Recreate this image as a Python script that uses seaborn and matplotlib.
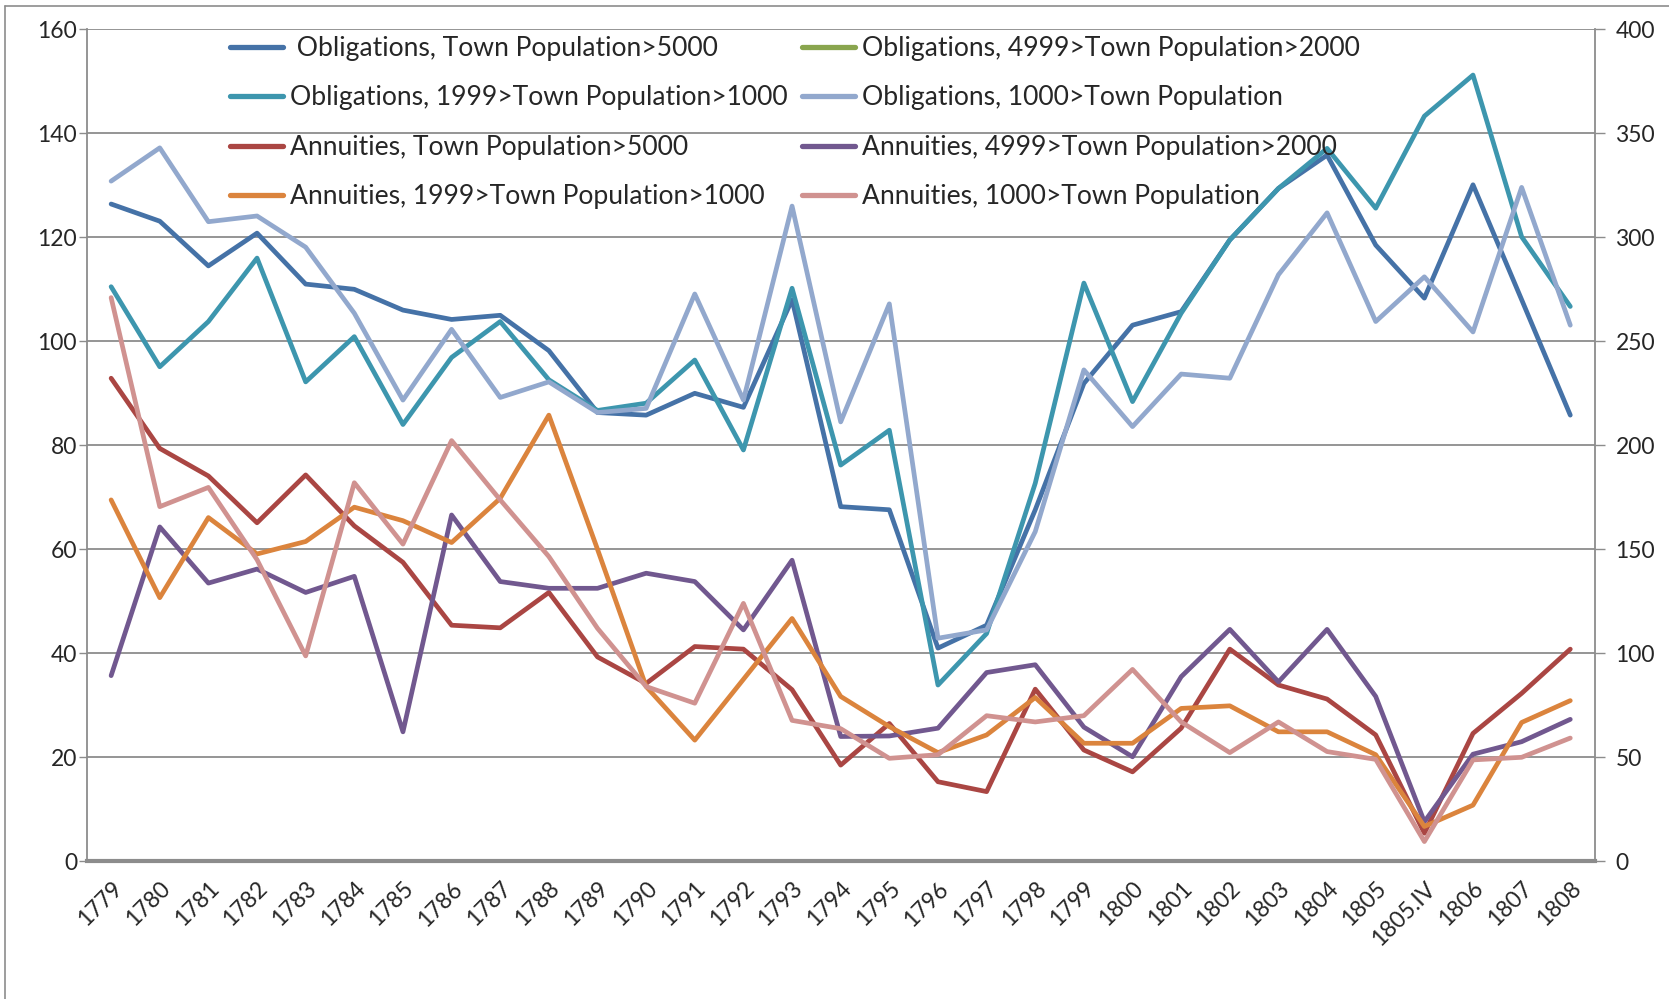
import numpy as np
import pandas as pd
import matplotlib
matplotlib.use("Agg")
import matplotlib.pyplot as plt
import seaborn as sns
from matplotlib.lines import Line2D

years = ["1779", "1780", "1781", "1782", "1783", "1784", "1785", "1786", "1787", "1788",
         "1789", "1790", "1791", "1792", "1793", "1794", "1795", "1796", "1797", "1798",
         "1799", "1800", "1801", "1802", "1803", "1804", "1805", "1805.IV", "1806", "1807", "1808"]

obl_5000 = [126.4, 123.1, 114.5, 120.8, 111.0, 110.0, 106.0, 104.2, 105.0, 98.2,
            86.3, 85.8, 90.0, 87.3, 108.0, 68.2, 67.6, 41.0, 45.4, 67.6,
            91.9, 103.1, 105.7, 119.5, 129.4, 135.8, 118.5, 108.3, 130.1, 108.0, 85.8]
obl_4999 = []  # series is in the legend but draws nothing in the chart
obl_1999 = [110.5, 95.1, 103.8, 116.0, 92.2, 100.9, 84.0, 96.9, 103.8, 92.6,
            86.7, 88.1, 96.4, 79.1, 110.2, 76.2, 82.9, 33.9, 43.8, 72.7,
            111.2, 88.4, 105.4, 119.5, 129.4, 137.1, 125.6, 143.3, 151.2, 120.1, 106.7]
obl_1000 = [130.8, 137.2, 123.0, 124.1, 118.1, 105.4, 88.7, 102.3, 89.2, 92.2,
            86.3, 87.1, 109.1, 88.7, 126.0, 84.5, 107.2, 42.9, 44.5, 63.4,
            94.5, 83.6, 93.7, 92.9, 112.8, 124.7, 103.8, 112.4, 101.8, 129.6, 103.1]
ann_5000 = [92.9, 79.4, 74.1, 65.1, 74.3, 64.5, 57.5, 45.4, 44.9, 51.7,
            39.3, 34.2, 41.3, 40.8, 33.0, 18.5, 26.5, 15.3, 13.4, 33.1,
            21.4, 17.2, 25.6, 40.8, 33.9, 31.2, 24.3, 5.4, 24.6, 32.3, 40.8]
ann_4999 = [35.7, 64.3, 53.5, 56.2, 51.7, 54.8, 24.9, 66.6, 53.8, 52.5,
            52.5, 55.4, 53.8, 44.5, 57.9, 24.0, 24.1, 25.6, 36.3, 37.8,
            25.8, 20.1, 35.5, 44.6, 34.5, 44.6, 31.7, 7.6, 20.6, 23.0, 27.3]
ann_1999 = [69.5, 50.7, 66.1, 59.1, 61.5, 68.1, 65.5, 61.3, 69.8, 85.8,
            60.0, 33.6, 23.3, 35.0, 46.7, 31.7, 25.9, 20.9, 24.3, 31.5,
            22.7, 22.7, 29.4, 29.9, 24.9, 24.9, 20.5, 6.7, 10.8, 26.7, 30.9]
ann_1000 = [108.4, 68.2, 71.9, 58.0, 39.5, 72.8, 61.0, 80.9, 69.5, 58.6,
            44.8, 33.6, 30.4, 49.6, 27.1, 25.5, 19.8, 20.5, 28.0, 26.8,
            28.0, 36.9, 26.8, 20.9, 26.8, 21.1, 19.6, 3.8, 19.5, 20.0, 23.7]

left_ticks = [0, 20, 40, 60, 80, 100, 120, 140, 160]
right_ticks = [0, 50, 100, 150, 200, 250, 300, 350, 400]

series = [
    (" Obligations, Town Population>5000", obl_5000, "#4572A7"),
    ("Obligations, 4999>Town Population>2000", obl_4999, "#89A54E"),
    ("Obligations, 1999>Town Population>1000", obl_1999, "#3D96AE"),
    ("Obligations, 1000>Town Population", obl_1000, "#92A8CD"),
    ("Annuities, Town Population>5000", ann_5000, "#AA4643"),
    ("Annuities, 4999>Town Population>2000", ann_4999, "#71588F"),
    ("Annuities, 1999>Town Population>1000", ann_1999, "#DB843D"),
    ("Annuities, 1000>Town Population", ann_1000, "#D09290"),
]

sns.set_theme(style="white")
plt.rcParams["font.family"] = ["Lato", "DejaVu Sans"]
GRID = "#8c8c8c"

fig = plt.figure(figsize=(16.69, 9.99), dpi=100)
ax = fig.add_axes([86.8 / 1669, 1 - 861.3 / 999, (1594.6 - 86.8) / 1669, (861.3 - 29.3) / 999])

handles = {}
for label, vals, col in series:
    if vals:
        df = pd.DataFrame({"year": years, "value": vals})
        sns.lineplot(data=df, x="year", y="value", sort=False, color=col, lw=3.4,
                     ax=ax, legend=False)
    handles[label] = Line2D([], [], color=col, lw=3.8, solid_capstyle="round")

ax.set_xlim(-0.5, len(years) - 0.5)
ax.set_ylim(0, 160)
ax.set_yticks(left_ticks)
ax.set_xticks(range(len(years)))
ax.set_xticklabels(years, rotation=45, ha="right", rotation_mode="anchor", fontsize=16.5)
ax.tick_params(axis="x", length=0, pad=12)
ax.set_xticks(np.arange(-0.5, len(years)), minor=True)
ax.tick_params(axis="x", which="minor", length=8, color=GRID, width=1, direction="out")
ax.tick_params(axis="y", labelsize=16.5, length=6, color=GRID, width=1, direction="out", pad=1)
ax.grid(axis="y", color=GRID, lw=1.3)
ax.set_axisbelow(True)
ax.set_xlabel("")
ax.set_ylabel("")
for side in ["left", "right"]:
    ax.spines[side].set_color(GRID)
    ax.spines[side].set_linewidth(1.3)
ax.spines["top"].set_visible(False)
ax.spines["bottom"].set_color(GRID)
ax.spines["bottom"].set_linewidth(3)

ax2 = ax.twinx()
ax2.set_ylim(0, 400)
ax2.set_yticks(right_ticks)
ax2.tick_params(axis="y", labelsize=16.5, length=7, color=GRID, width=1, direction="out", pad=8)
for sp in ax2.spines.values():
    sp.set_visible(False)
ax2.grid(False)

order = [series[i][0] for i in (0, 2, 4, 6, 1, 3, 5, 7)]
leg = ax.legend([handles[k] for k in order], order, ncol=2, frameon=False,
                loc="upper left", bbox_to_anchor=(230 / 1669, 1 - 36 / 999),
                bbox_transform=fig.transFigure, fontsize=19.1, handlelength=2.0,
                handletextpad=0.25, columnspacing=0.55, labelspacing=0.92, borderpad=0,
                borderaxespad=0)

# outer chart frame, cut at the right and bottom edges
fig.add_artist(Line2D([5.4 / 1669, 5.4 / 1669], [0, 1 - 6 / 999], color=GRID, lw=1.2))
fig.add_artist(Line2D([5.4 / 1669, 1], [1 - 6 / 999, 1 - 6 / 999], color=GRID, lw=1.2))

fig.savefig("out.png", dpi=100)
